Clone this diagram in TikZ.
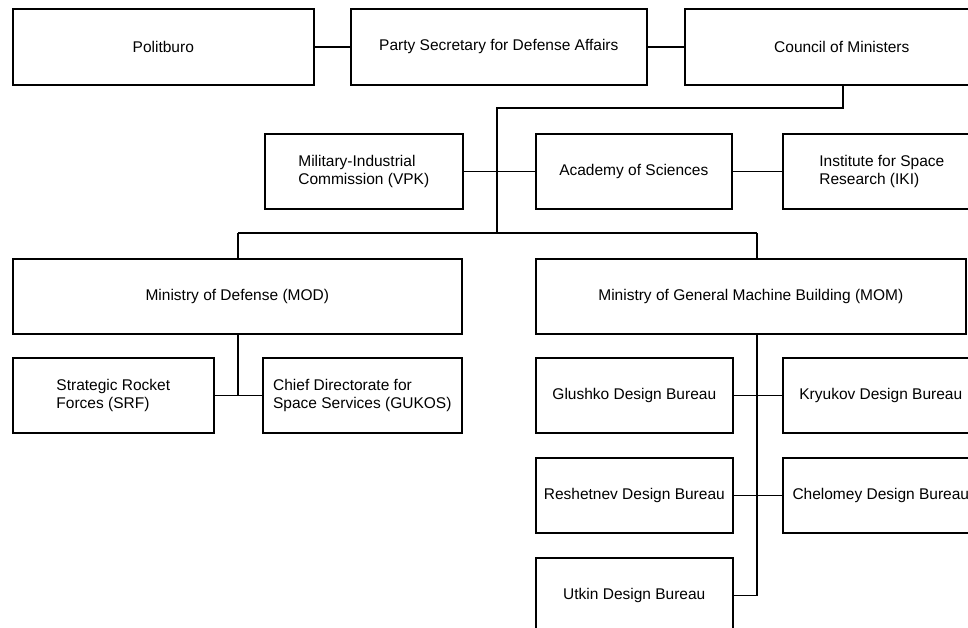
\documentclass[tikz,border=0pt]{standalone}
\usepackage{fontspec}
\setmainfont{Liberation Sans}
\begin{document}
\begin{tikzpicture}[x=1pt,y=-1pt,
  box/.style={draw, line width=1.6pt, anchor=north west, inner sep=0pt, align=left,
    font=\fontsize{15.5}{18.5}\selectfont},
  conn/.style={line width=1.6pt}]
\useasboundingbox (0,0) rectangle (968,627);
\clip (0,0) rectangle (968,627);
% row 1
\node[box, minimum width=301pt, minimum height=76pt] (pol) at (12,8) {Politburo};
\node[box, minimum width=296pt, minimum height=76pt] (party) at (350,8) {Party Secretary for Defense Affairs};
\node[box, minimum width=314pt, minimum height=76pt] (council) at (684,8) {Council of Ministers};
% row 2
\node[box, minimum width=198pt, minimum height=75pt] (vpk) at (264,133) {Military-Industrial\\Commission (VPK)};
\node[box, minimum width=196pt, minimum height=75pt] (acad) at (535,133) {Academy of Sciences};
\node[box, minimum width=198pt, minimum height=75pt] (iki) at (782,133) {Institute for Space\\Research (IKI)};
% row 3
\node[box, minimum width=449pt, minimum height=75pt] (mod) at (12,258) {Ministry of Defense (MOD)};
\node[box, minimum width=430pt, minimum height=75pt] (mom) at (535,258) {Ministry of General Machine Building (MOM)};
% row 4
\node[box, minimum width=201pt, minimum height=75pt] (srf) at (12,357) {Strategic Rocket\\Forces (SRF)};
\node[box, minimum width=199pt, minimum height=75pt] (gukos) at (262,357) {Chief Directorate for\\Space Services (GUKOS)};
\node[box, minimum width=197pt, minimum height=75pt] (glushko) at (535,357) {Glushko Design Bureau};
\node[box, minimum width=196pt, minimum height=75pt] (kryukov) at (782,357) {Kryukov Design Bureau};
% row 5
\node[box, minimum width=197pt, minimum height=75pt] (reshet) at (535,457) {Reshetnev Design Bureau};
\node[box, minimum width=196pt, minimum height=75pt] (chelomey) at (782,457) {Chelomey Design Bureau};
% row 6
\node[box, minimum width=197pt, minimum height=75pt] (utkin) at (535,557) {Utkin Design Bureau};
% connectors
\coordinate (c1) at (843,108);
\coordinate (c2) at (497,108);
\coordinate (c3) at (497,233);
\coordinate (c4) at (238,233);
\coordinate (c5) at (757,233);
\coordinate (d1) at (238,395);
\draw[conn] (pol.east) -- (party.west);
\draw[conn] (party.east) -- (council.west);
\draw[conn] (council.south -| c1) -- (c1) -- (c2) -- (c3);
\draw[conn] (c4) -- (c5);
\draw[conn] (c4) -- (mod.north -| c4);
\draw[conn] (c5) -- (mom.north -| c5);
\draw[conn] (vpk.east) -- (acad.west);
\draw[conn] (acad.east) -- (iki.west);
\draw[conn] (mod.south -| d1) -- (d1);
\draw[conn] (srf.east) -- (gukos.west);
\coordinate (m1) at (utkin.east -| c5);
\draw[conn] (mom.south -| c5) -- (m1) -- (utkin.east);
\draw[conn] (glushko.east) -- (kryukov.west);
\draw[conn] (reshet.east) -- (chelomey.west);
\end{tikzpicture}
\end{document}
